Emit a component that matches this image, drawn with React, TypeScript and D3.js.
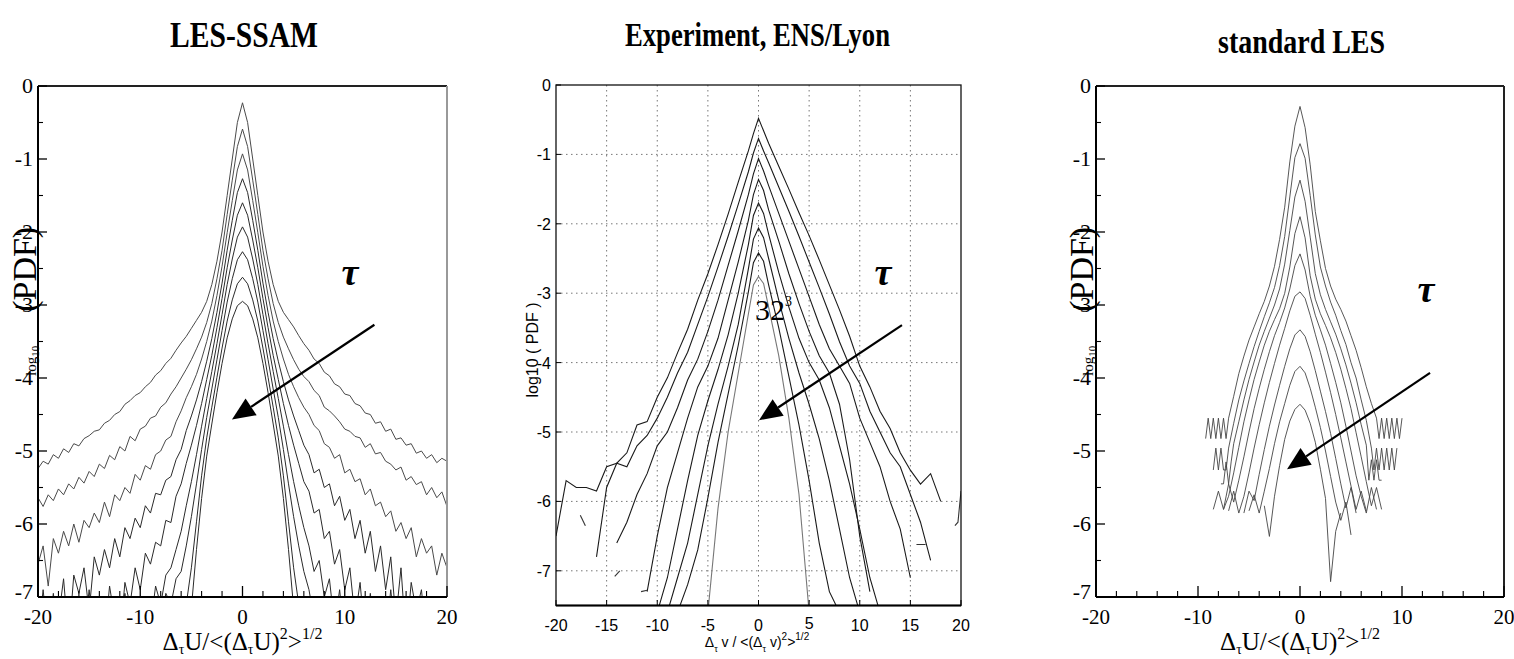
import React from "react";
import * as d3 from "d3";

const N = null;

// ---------- Panel 1: LES-SSAM ----------
const ssamX = [-20,-19.5,-19,-18.5,-18,-17.5,-17,-16.5,-16,-15.5,-15,-14.5,-14,-13.5,-13,-12.5,-12,-11.5,-11,-10.5,
  -10,-9.5,-9,-8.5,-8,-7.5,-7,-6.5,-6,-5.5,-5,-4.5,-4,-3.5,-3,-2.5,-2,-1.5,-1,-0.5,
  0,
  0.5,1,1.5,2,2.5,3,3.5,4,4.5,5,5.5,6,6.5,7,7.5,8,8.5,9,9.5,10,
  10.5,11,11.5,12,12.5,13,13.5,14,14.5,15,15.5,16,16.5,17,17.5,18,18.5,19,19.5,20];
const ssam0 = [-5.24,-5.14,-5.18,-5.05,-5.1,-4.97,-5.02,-4.9,-4.93,-4.83,-4.79,-4.73,-4.71,-4.62,-4.58,-4.5,-4.46,-4.36,-4.31,-4.24,
  -4.2,-4.12,-4.06,-3.96,-3.9,-3.8,-3.73,-3.62,-3.52,-3.43,-3.32,-3.21,-3.1,-2.95,-2.72,-2.4,-2.0,-1.5,-1.0,-0.5,
  -0.23,
  -0.5,-1.0,-1.5,-2.0,-2.4,-2.72,-2.95,-3.1,-3.2,-3.3,-3.42,-3.53,-3.62,-3.74,-3.8,-3.92,-3.97,-4.08,-4.12,-4.22,
  -4.24,-4.35,-4.38,-4.48,-4.5,-4.62,-4.6,-4.73,-4.7,-4.84,-4.82,-4.92,-4.9,-5.03,-5.0,-5.1,-5.05,-5.16,-5.1,-5.14];
const ssam1 = [-5.64,-5.76,-5.6,-5.68,-5.52,-5.6,-5.45,-5.52,-5.36,-5.44,-5.28,-5.35,-5.18,-5.24,-5.06,-5.12,-4.94,-5.0,-4.8,-4.86,
  -4.7,-4.66,-4.55,-4.52,-4.4,-4.34,-4.22,-4.12,-4.0,-3.88,-3.75,-3.6,-3.44,-3.24,-2.98,-2.64,-2.25,-1.76,-1.29,-0.83,
  -0.59,
  -0.83,-1.29,-1.76,-2.25,-2.64,-2.98,-3.24,-3.44,-3.6,-3.75,-3.88,-3.98,-4.05,-4.17,-4.24,-4.4,-4.45,-4.52,-4.6,-4.7,
  -4.73,-4.8,-4.82,-4.95,-4.9,-5.04,-5.02,-5.14,-5.18,-5.26,-5.22,-5.4,-5.35,-5.46,-5.42,-5.6,-5.5,-5.64,-5.56,-5.76];
const ssam2 = [-6.55,-6.3,-6.85,-6.2,-6.4,-6.1,-6.3,-6.0,-6.25,-5.95,-6.05,-5.85,-5.98,-5.7,-5.9,-5.6,-5.68,-5.5,-5.58,-5.32,
  -5.4,-5.2,-5.25,-5.05,-5.0,-4.85,-4.8,-4.6,-4.45,-4.27,-4.12,-3.95,-3.74,-3.5,-3.22,-2.87,-2.47,-2.01,-1.57,-1.15,
  -0.93,
  -1.15,-1.57,-2.01,-2.47,-2.87,-3.22,-3.5,-3.74,-3.95,-4.12,-4.27,-4.4,-4.5,-4.65,-4.72,-4.9,-4.95,-5.1,-5.05,-5.3,
  -5.25,-5.42,-5.38,-5.6,-5.52,-5.75,-5.7,-5.9,-5.82,-6.1,-5.98,-6.2,-6.05,-6.45,-6.2,-6.4,-6.3,-6.7,-6.4,-6.6];
const ssam3 = [-7.6,-6.9,-7.6,-7.0,-7.3,-6.75,-7.6,-6.7,-6.95,-6.6,-7.2,-6.45,-6.7,-6.35,-6.6,-6.2,-6.45,-6.05,-6.2,-5.92,
  -6.05,-5.75,-5.85,-5.58,-5.6,-5.4,-5.35,-5.12,-4.98,-4.72,-4.52,-4.3,-4.05,-3.77,-3.46,-3.1,-2.7,-2.25,-1.84,-1.46,
  -1.27,
  -1.46,-1.84,-2.25,-2.7,-3.1,-3.46,-3.77,-4.05,-4.3,-4.52,-4.72,-4.92,-5.05,-5.3,-5.25,-5.5,-5.45,-5.75,-5.62,-5.95,
  -5.8,-6.2,-5.95,-6.4,-6.1,-6.65,-6.3,-6.9,-6.45,-7.3,-6.6,-7.6,-6.8,-7.2,-6.9,-7.6,-7.0,-7.6,-7.1,-7.6];
const ssam4 = [-7.6,-7.1,-7.6,-6.95,-7.6,-7.2,-7.6,-7.0,-7.5,-7.6,-6.9,-7.6,-7.1,-7.6,-6.85,-7.3,-7.6,-6.8,-7.1,-6.6,
  -6.9,-6.4,-6.55,-6.25,-6.3,-5.95,-5.98,-5.62,-5.45,-5.17,-4.92,-4.65,-4.35,-4.02,-3.69,-3.31,-2.91,-2.49,-2.11,-1.77,
  -1.6,
  -1.77,-2.11,-2.49,-2.91,-3.31,-3.69,-4.02,-4.35,-4.65,-4.92,-5.17,-5.42,-5.55,-5.85,-5.8,-6.2,-6.1,-6.55,-6.35,-6.9,
  -6.6,-7.3,-6.8,-7.6,-6.95,-7.6,-7.1,-7.6,-6.9,-7.6,-7.2,-7.6,-7.0,-7.6,-7.4,-7.6,-7.1,-7.6,N,N];
const ssam5 = [N,N,N,N,N,N,N,N,N,N,N,N,-7.6,-7.1,-7.6,-7.3,-7.6,-6.95,-7.6,-7.2,
  -7.45,-7.0,-7.4,-6.85,-7.1,-6.7,-6.6,-6.35,-6.1,-5.75,-5.42,-5.05,-4.66,-4.28,-3.91,-3.53,-3.13,-2.72,-2.37,-2.07,
  -1.93,
  -2.07,-2.37,-2.72,-3.13,-3.53,-3.91,-4.28,-4.66,-5.05,-5.42,-5.75,-6.05,-6.3,-6.65,-6.5,-7.0,-6.75,-7.4,-6.9,-7.6,
  -7.1,-7.6,-7.0,-7.6,-7.3,-7.6,N,N,N,N,N,N,N,N,N,N,N,N,N,N];
const ssam6 = [N,N,N,N,N,N,N,N,N,N,N,N,N,N,-7.6,-7.3,-7.6,-7.2,-7.6,-7.35,
  -7.6,-7.1,-7.5,-7.0,-7.4,-6.95,-7.1,-6.75,-6.65,-6.3,-5.9,-5.45,-4.98,-4.54,-4.15,-3.75,-3.35,-2.96,-2.64,-2.38,
  -2.27,
  -2.38,-2.64,-2.96,-3.35,-3.75,-4.15,-4.54,-4.98,-5.45,-5.9,-6.3,-6.65,-6.9,-7.3,-7.05,-7.6,-7.2,-7.6,-7.3,-7.6,
  N,N,N,N,N,N,N,N,N,N,N,N,N,N,N,N,N,N,N,N];
const ssam7 = [N,N,N,N,N,N,N,N,N,N,N,N,N,N,N,N,N,N,N,N,
  -7.6,-7.3,-7.6,-7.4,-7.6,-7.25,-7.5,-7.15,-7.3,-7.1,-6.6,-5.97,-5.34,-4.82,-4.4,-3.99,-3.59,-3.22,-2.93,-2.71,
  -2.62,
  -2.71,-2.93,-3.22,-3.59,-3.99,-4.4,-4.82,-5.34,-5.97,-6.6,-7.1,-7.45,-7.2,-7.6,-7.3,-7.6,N,N,N,N,
  N,N,N,N,N,N,N,N,N,N,N,N,N,N,N,N,N,N,N,N];
const ssam8 = [N,N,N,N,N,N,N,N,N,N,N,N,N,N,N,N,N,N,N,N,
  N,N,N,N,N,N,N,N,-7.6,-7.3,-7.15,-6.35,-5.65,-5.07,-4.63,-4.2,-3.8,-3.45,-3.19,-3.01,
  -2.95,
  -3.01,-3.19,-3.45,-3.8,-4.2,-4.63,-5.07,-5.65,-6.35,-7.15,-7.4,-7.6,N,N,N,N,N,N,N,N,
  N,N,N,N,N,N,N,N,N,N,N,N,N,N,N,N,N,N,N,N];
const ssamCurves = [ssam0, ssam1, ssam2, ssam3, ssam4, ssam5, ssam6, ssam7, ssam8];

// ---------- Panel 2: Experiment, ENS/Lyon ----------
const expX = [-20,-19,-18,-17,-16,-15,-14,-13,-12,-11,-10,-9,-8,-7,-6,-5,-4,-3,-2,-1,-0.5,0,0.5,1,2,3,4,5,6,7,8,9,10,11,12,13,14,15,16,17,18,19,20];
const exp0 = [-6.5,-5.7,-5.8,-5.8,-5.85,-5.5,-5.45,-5.3,-4.9,-4.85,-4.5,-4.22,-3.86,-3.52,-3.1,-2.72,-2.3,-1.86,-1.4,-0.95,
  -0.7,-0.48,-0.66,
  -0.84,-1.17,-1.5,-1.84,-2.17,-2.52,-2.88,-3.24,-3.62,-4.05,-4.35,-4.7,-4.95,-5.3,-5.55,-5.75,-5.6,-6.0,N,N];
const exp1 = [N,N,N,N,-6.8,-5.8,-5.45,-5.5,-5.2,-5.05,-4.8,-4.5,-4.15,-3.85,-3.45,-3.05,-2.62,-2.18,-1.72,-1.25,
  -0.98,-0.77,-0.95,
  -1.12,-1.47,-1.82,-2.18,-2.55,-2.92,-3.3,-3.7,-4.05,-4.3,-4.7,-5.0,-5.3,-5.5,-5.9,-6.3,-6.85,N,N,N];
const exp2 = [N,N,N,N,N,N,-6.6,-6.3,-5.9,-5.6,-5.2,-5.0,-4.65,-4.25,-3.95,-3.55,-3.1,-2.6,-2.1,-1.58,
  -1.28,-1.06,-1.24,
  -1.45,-1.85,-2.25,-2.65,-3.05,-3.45,-3.8,-4.05,-4.3,-4.8,-5.15,-5.5,-6.0,-6.4,-7.1,N,N,N,N,N];
const exp3 = [N,N,N,N,N,N,N,N,N,-7.3,-6.5,-5.8,-5.3,-4.8,-4.35,-4.05,-3.65,-3.1,-2.55,-1.95,
  -1.58,-1.36,-1.52,
  -1.8,-2.25,-2.72,-3.15,-3.55,-3.9,-4.15,-4.6,-5.4,-6.5,-7.3,N,N,N,N,N,N,N,N,N];
const exp4 = [N,N,N,N,N,N,N,N,N,N,-7.6,-7.1,-6.4,-5.7,-5.05,-4.55,-4.1,-3.6,-3.0,-2.3,
  -1.88,-1.7,-1.85,
  -2.15,-2.7,-3.2,-3.65,-4.0,-4.25,-4.65,-5.2,-5.75,-6.4,-7.1,-7.6,N,N,N,N,N,N,N,N];
const exp5 = [N,N,N,N,N,N,N,N,N,N,N,-7.6,-7.1,-6.6,-5.9,-5.2,-4.6,-4.05,-3.45,-2.65,
  -2.22,-2.06,-2.2,
  -2.5,-3.1,-3.65,-4.15,-4.6,-5.1,-5.7,-6.4,-7.1,-7.6,N,N,N,N,N,N,N,N,N,N];
const exp6 = [N,N,N,N,N,N,N,N,N,N,N,N,-7.6,-7.2,-6.7,-5.95,-5.15,-4.45,-3.75,-2.98,
  -2.56,-2.42,-2.54,
  -2.88,-3.5,-4.2,-4.9,-5.7,-6.6,-7.3,-7.6,N,N,N,N,N,N,N,N,N,N,N,N];
const exp7 = [N,N,N,N,N,N,N,N,N,N,N,N,N,N,N,-7.6,-6.1,-5.0,-4.15,-3.3,
  -2.88,-2.76,-2.86,
  -3.2,-3.9,-4.8,-5.9,-7.6,N,N,N,N,N,N,N,N,N,N,N,N,N,N,N];
const expCurves = [exp0, exp1, exp2, exp3, exp4, exp5, exp6, exp7];
const expFragments = [
  [[19.4, -6.35], [19.7, -6.3], [20, -5.85]],
  [[15.6, -6.62], [16.5, -6.62]],
  [[-14.2, -7.08], [-13.7, -7.0]],
  [[-11.6, -7.3], [-11.0, -7.28]],
  [[-17.6, -6.2], [-17.1, -6.35]],
];

// ---------- Panel 3: standard LES ----------
const stdX = [-10,-9.5,-9,-8.5,-8,-7.5,-7,-6.5,-6,-5.5,-5,-4.5,-4,-3.5,-3,-2.5,-2,-1.5,-1,-0.5,0,0.5,1,1.5,2,2.5,3,3.5,4,4.5,5,5.5,6,6.5,7,7.5,8,8.5,9,9.5,10];
const std0 = [N,N,N,N,N,N,-4.55,-4.25,-3.94,-3.7,-3.48,-3.3,-3.12,-2.95,-2.74,-2.47,-2.1,-1.66,-1.04,-0.55,
  -0.28,
  -0.57,-1.08,-1.72,-2.12,-2.5,-2.74,-2.92,-3.06,-3.22,-3.42,-3.62,-3.86,-4.12,-4.35,-4.55,N,N,N,N,N];
const std1 = [N,N,N,N,N,N,-4.96,-4.62,-4.3,-4.04,-3.8,-3.57,-3.36,-3.16,-2.97,-2.76,-2.46,-2.06,-1.52,-0.98,
  -0.79,
  -0.99,-1.5,-2.04,-2.48,-2.74,-2.96,-3.14,-3.35,-3.54,-3.79,-4.0,-4.3,-4.58,-4.96,N,N,N,N,N,N];
const std2 = [N,N,N,N,N,N,N,-4.9,-4.6,-4.3,-4.02,-3.78,-3.55,-3.36,-3.18,-3.0,-2.78,-2.44,-1.98,-1.52,
  -1.29,
  -1.58,-2.07,-2.57,-2.86,-3.06,-3.23,-3.4,-3.6,-3.82,-4.07,-4.34,-4.64,-4.92,N,N,N,N,N,N,N];
const std3 = [N,N,N,-5.8,-5.55,-5.8,-5.62,-5.3,-4.95,-4.6,-4.3,-4.02,-3.78,-3.55,-3.36,-3.2,-3.05,-2.84,-2.48,-2.02,
  -1.79,
  -2.08,-2.6,-2.92,-3.12,-3.28,-3.45,-3.65,-3.88,-4.14,-4.42,-4.75,-5.08,-5.42,-5.75,-5.5,-5.8,N,N,N,N];
const std4 = [N,N,N,N,N,-5.8,-5.45,-5.7,-5.4,-5.08,-4.74,-4.42,-4.14,-3.88,-3.64,-3.42,-3.24,-3.04,-2.78,-2.46,
  -2.3,
  -2.52,-2.88,-3.14,-3.34,-3.55,-3.8,-4.06,-4.34,-4.66,-5.0,-5.34,-5.62,-5.85,-5.5,-5.8,N,N,N,N,N];
const std5 = [N,N,N,N,N,N,-5.82,-5.55,-5.85,-5.62,-5.3,-4.96,-4.64,-4.34,-4.06,-3.8,-3.55,-3.32,-3.08,-2.88,
  -2.82,
  -2.91,-3.14,-3.4,-3.65,-3.92,-4.2,-4.5,-4.82,-5.15,-5.48,-5.8,-5.55,-5.82,N,N,N,N,N,N,N];
const std6 = [N,N,N,N,N,N,N,N,N,-5.85,-5.55,-5.68,-5.32,-4.98,-4.66,-4.37,-4.1,-3.84,-3.6,-3.41,
  -3.34,
  -3.43,-3.64,-3.9,-4.18,-4.46,-4.76,-5.1,-5.45,-5.78,-5.5,-5.85,N,N,N,N,N,N,N,N,N];
const std7 = [N,N,N,N,N,N,N,N,N,N,-5.82,-5.6,-5.85,-5.55,-5.24,-4.9,-4.6,-4.35,-4.1,-3.91,
  -3.84,
  -3.93,-4.14,-4.4,-4.68,-5.0,-5.35,-5.7,-5.95,-5.7,-6.15,N,N,N,N,N,N,N,N,N,N];
const std8 = [N,N,N,N,N,N,N,N,N,N,N,N,N,-5.75,-6.17,-5.62,-5.2,-4.84,-4.59,-4.43,
  -4.36,
  -4.44,-4.62,-4.88,-5.25,-5.65,-6.79,-6.1,-5.85,N,N,N,N,N,N,N,N,N,N,N,N];
const stdCurves = [std0, std1, std2, std3, std4, std5, std6, std7, std8];
// low-count "square-wave" tails of the three widest curves
const stdBands: [number[], number[]][] = [
  [[-9.25,-9,-8.75,-8.5,-8.25,-8,-7.75,-7.5,-7.25,-7], [-4.83,-4.55,-4.83,-4.55,-4.83,-4.55,-4.83,-4.55,-4.83,-4.55]],
  [[7.5,7.75,8,8.25,8.5,8.75,9,9.25,9.5,9.75,10], [-4.55,-4.83,-4.55,-4.83,-4.55,-4.83,-4.55,-4.83,-4.55,-4.83,-4.55]],
  [[-8.5,-8.25,-8,-7.75,-7.5,-7.25,-7], [-5.26,-4.96,-5.26,-4.96,-5.26,-5.26,-4.96]],
  [[7,7.25,7.5,7.75,8,8.25,8.5,8.75,9,9.25,9.5], [-4.96,-5.26,-4.96,-5.26,-4.96,-5.26,-4.96,-5.26,-4.96,-5.26,-4.96]],
  [[-7.75,-7.5,-7.25,-7,-6.75,-6.5], [-5.45,-5.45,-5.15,-5.45,-5.15,-4.9]],
  [[6.5,6.75,7,7.25,7.5,7.75,8], [-4.92,-5.4,-5.12,-5.4,-5.12,-5.4,-5.4]],
];

// ---------- Ticks ----------
const graceYTicks = [0, -1, -2, -3, -4, -5, -6, -7];
const graceYMinor = [-0.5, -1.5, -2.5, -3.5, -4.5, -5.5, -6.5];
const graceXTicks = [-20, -10, 0, 10, 20];
const graceXMinor = [-18, -16, -14, -12, -8, -6, -4, -2, 2, 4, 6, 8, 12, 14, 16, 18];
const expYTicks = [0, -1, -2, -3, -4, -5, -6, -7];
const expXTicks = [-20, -15, -10, -5, 0, 5, 10, 15, 20];
const expGridX = [-15, -10, -5, 0, 5, 10, 15];
const expGridY = [-1, -2, -3, -4, -5, -6, -7];

const SERIF = "'Liberation Serif', 'Times New Roman', serif";
const SANS = "'Liberation Sans', Arial, sans-serif";

type Scale = d3.ScaleLinear<number, number>;

function curvePath(xs: number[], ys: (number | null)[], sx: Scale, sy: Scale) {
  const pts = xs.map((x, i) => [x, ys[i]] as [number, number | null]);
  return (
    d3
      .line<[number, number | null]>()
      .defined((d) => d[1] !== null)
      .x((d) => sx(d[0]))
      .y((d) => sy(d[1] as number))(pts) || ""
  );
}

function Arrow({ from, to, sx, sy }: { from: [number, number]; to: [number, number]; sx: Scale; sy: Scale }) {
  const x0 = sx(from[0]), y0 = sy(from[1]);
  const x1 = sx(to[0]), y1 = sy(to[1]);
  const dx = x1 - x0, dy = y1 - y0;
  const len = Math.hypot(dx, dy);
  const ux = dx / len, uy = dy / len;
  const hl = 23, hw = 10;
  const bx = x1 - ux * hl, by = y1 - uy * hl;
  const px = -uy, py = ux;
  return (
    <g>
      <line x1={x0} y1={y0} x2={bx} y2={by} stroke="#000" strokeWidth={2.2} />
      <polygon points={`${x1},${y1} ${bx + px * hw},${by + py * hw} ${bx - px * hw},${by - py * hw}`} fill="#000" />
    </g>
  );
}

function GraceAxes({ sx, sy, id, rightColor, labelX }: { sx: Scale; sy: Scale; id: string; rightColor: string; labelX: number }) {
  const [xl, xr] = sx.range();
  const [yb, yt] = sy.range();
  return (
    <g>
      <line x1={xl} y1={yt} x2={xr} y2={yt} stroke="#222" strokeWidth={2} />
      <line x1={xr} y1={yt} x2={xr} y2={yb} stroke={rightColor} strokeWidth={2} />
      <line x1={xl} y1={yb} x2={xr} y2={yb} stroke="#000" strokeWidth={2} />
      <line x1={xl} y1={yt} x2={xl} y2={yb} stroke="#000" strokeWidth={2} />
      {graceYTicks.map((v) => (
        <g key={`${id}yt${v}`}>
          <line x1={xl} x2={xl + 9} y1={sy(v)} y2={sy(v)} stroke="#000" strokeWidth={1.3} />
          <text x={xl - 5} y={sy(v) + (v === -7 ? 2 : 7)} textAnchor="end" fontFamily={SERIF} fontSize={22}>
            {String(v)}
          </text>
        </g>
      ))}
      {graceYMinor.map((v) => (
        <line key={`${id}ym${v}`} x1={xl} x2={xl + 5} y1={sy(v)} y2={sy(v)} stroke="#000" strokeWidth={1.1} />
      ))}
      {graceXTicks.map((v) => (
        <g key={`${id}xt${v}`}>
          <line x1={sx(v)} x2={sx(v)} y1={yb} y2={yb - 11} stroke="#000" strokeWidth={1.3} />
          <text x={sx(v)} y={yb + 27} textAnchor="middle" fontFamily={SERIF} fontSize={21}>
            {String(v)}
          </text>
        </g>
      ))}
      {graceXMinor.map((v) => (
        <line key={`${id}xm${v}`} x1={sx(v)} x2={sx(v)} y1={yb} y2={yb - 6} stroke="#000" strokeWidth={1.1} />
      ))}
      <text transform={`translate(${labelX},376) rotate(-90)`} fontFamily={SERIF} fill="#000">
        <tspan fontSize={15}>log</tspan>
        <tspan fontSize={11} dy={3}>10</tspan>
        <tspan fontSize={34} dy={-3} dx={34}>(PDF)</tspan>
      </text>
      <text x={(xl + xr) / 2} y={650} textAnchor="middle" fontFamily={SERIF} fontSize={25}>
        <tspan>Δ</tspan>
        <tspan fontSize={14} dy={4}>τ</tspan>
        <tspan dy={-4}>U/&lt;(Δ</tspan>
        <tspan fontSize={14} dy={4}>τ</tspan>
        <tspan dy={-4}>U)</tspan>
        <tspan fontSize={16} dy={-11}>2</tspan>
        <tspan dy={11}>&gt;</tspan>
        <tspan fontSize={16} dy={-11}>1/2</tspan>
      </text>
    </g>
  );
}

export default function App() {
  const x1 = d3.scaleLinear().domain([-20, 20]).range([38, 447]);
  const y1 = d3.scaleLinear().domain([-7, 0]).range([597, 86]);
  const x2 = d3.scaleLinear().domain([-20, 20]).range([556, 961]);
  const y2 = d3.scaleLinear().domain([-7.5, 0]).range([605.5, 85]);
  const x3 = d3.scaleLinear().domain([-20, 20]).range([1096, 1504]);
  const y3 = d3.scaleLinear().domain([-7, 0]).range([597, 86]);
  const bandLine = d3.line<[number, number]>().x((d) => x3(d[0])).y((d) => y3(d[1]));

  return (
    <svg width={1514} height={659} style={{ position: "absolute", left: 0, top: 0, background: "#fff" }}>
      <defs>
        <clipPath id="clip1"><rect x={38} y={86} width={409} height={511} /></clipPath>
        <clipPath id="clip2"><rect x={556} y={85} width={405} height={520.5} /></clipPath>
        <clipPath id="clip3"><rect x={1096} y={86} width={408} height={511} /></clipPath>
      </defs>
      <rect x={0} y={0} width={1514} height={659} fill="#fff" />

      {/* Titles */}
      <text x={170} y={47} textLength={148} lengthAdjust="spacingAndGlyphs" fontFamily={SERIF} fontWeight="bold" fontSize={36}>LES-SSAM</text>
      <text x={625} y={46} textLength={265} lengthAdjust="spacingAndGlyphs" fontFamily={SERIF} fontWeight="bold" fontSize={33}>Experiment, ENS/Lyon</text>
      <text x={1218} y={53} textLength={167} lengthAdjust="spacingAndGlyphs" fontFamily={SERIF} fontWeight="bold" fontSize={34}>standard LES</text>

      {/* Panel 1 */}
      <g clipPath="url(#clip1)">
        {ssamCurves.map((c, i) => (
          <path key={`s${i}`} d={curvePath(ssamX, c, x1, y1)} fill="none" stroke={i < 3 ? "#4a4a4a" : "#2a2a2a"} strokeWidth={1} strokeLinejoin="round" />
        ))}
      </g>
      <GraceAxes sx={x1} sy={y1} id="p1" rightColor="#999" labelX={36} />
      <text x={x1(10.5)} y={y1(-2.73)} textAnchor="middle" fontFamily={SERIF} fontStyle="italic" fontWeight="bold" fontSize={38}>τ</text>
      <Arrow from={[12.9, -3.27]} to={[-1.03, -4.57]} sx={x1} sy={y1} />

      {/* Panel 2 */}
      {expGridX.map((v) => (
        <line key={`gx${v}`} x1={x2(v)} x2={x2(v)} y1={85} y2={605.5} stroke="#777" strokeWidth={1} strokeDasharray="1.5,3.5" />
      ))}
      {expGridY.map((v) => (
        <line key={`gy${v}`} x1={556} x2={961} y1={y2(v)} y2={y2(v)} stroke="#777" strokeWidth={1} strokeDasharray="1.5,3.5" />
      ))}
      <g clipPath="url(#clip2)">
        {expCurves.map((c, i) => (
          <path key={`e${i}`} d={curvePath(expX, c, x2, y2)} fill="none" stroke={i === 7 ? "#777" : "#1a1a1a"} strokeWidth={1.1} />
        ))}
        {expFragments.map((f, i) => (
          <path key={`f${i}`} d={d3.line<number[]>().x((d) => x2(d[0])).y((d) => y2(d[1]))(f) || ""} fill="none" stroke="#333" strokeWidth={1.1} />
        ))}
      </g>
      <rect x={556} y={85} width={405} height={520.5} fill="none" stroke="#111" strokeWidth={1.3} />
      <line x1={556} x2={961} y1={605.5} y2={605.5} stroke="#000" strokeWidth={2.2} />
      {expYTicks.map((v) => (
        <g key={`eyt${v}`}>
          <line x1={556} x2={561} y1={y2(v)} y2={y2(v)} stroke="#000" strokeWidth={1} />
          <text x={551} y={y2(v) + 6} textAnchor="end" fontFamily={SANS} fontSize={16}>{String(v)}</text>
        </g>
      ))}
      {expXTicks.map((v) => (
        <g key={`ext${v}`}>
          <line x1={x2(v)} x2={x2(v)} y1={605.5} y2={600} stroke="#000" strokeWidth={1} />
          <text x={x2(v)} y={v === 5 ? 629 : 631} textAnchor="middle" fontFamily={SANS} fontSize={16}>{String(v)}</text>
        </g>
      ))}
      <text transform="translate(538,350) rotate(-90)" textAnchor="middle" fontFamily={SANS} fontSize={16}>log10 ( PDF )</text>
      <text x={757} y={647} textAnchor="middle" fontFamily={SANS} fontSize={14}>
        <tspan>Δ</tspan>
        <tspan fontSize={9} dy={5}>τ</tspan>
        <tspan dy={-5}> v / &lt;(Δ</tspan>
        <tspan fontSize={9} dy={5}>τ</tspan>
        <tspan dy={-5}> v)</tspan>
        <tspan fontSize={10} dy={-7}>2</tspan>
        <tspan dy={7}>&gt;</tspan>
        <tspan fontSize={10} dy={-7}>1/2</tspan>
      </text>
      <text x={x2(-0.35)} y={y2(-3.39)} fontFamily={SERIF} fontSize={30}>
        32<tspan fontSize={14} dy={-14}>3</tspan>
      </text>
      <text x={x2(12.3)} y={y2(-2.88)} textAnchor="middle" fontFamily={SERIF} fontStyle="italic" fontWeight="bold" fontSize={38}>τ</text>
      <Arrow from={[14.17, -3.46]} to={[0.05, -4.83]} sx={x2} sy={y2} />

      {/* Panel 3 */}
      <g clipPath="url(#clip3)">
        {stdCurves.map((c, i) => (
          <path key={`t${i}`} d={curvePath(stdX, c, x3, y3)} fill="none" stroke="#444" strokeWidth={0.9} />
        ))}
        {stdBands.map(([bx, by], i) => (
          <path key={`b${i}`} d={bandLine(bx.map((x, j) => [x, by[j]] as [number, number])) || ""} fill="none" stroke="#444" strokeWidth={0.9} />
        ))}
      </g>
      <GraceAxes sx={x3} sy={y3} id="p3" rightColor="#222" labelX={1093} />
      <text x={x3(12.35)} y={y3(-2.96)} textAnchor="middle" fontFamily={SERIF} fontStyle="italic" fontWeight="bold" fontSize={38}>τ</text>
      <Arrow from={[12.75, -3.93]} to={[-1.27, -5.25]} sx={x3} sy={y3} />
    </svg>
  );
}
